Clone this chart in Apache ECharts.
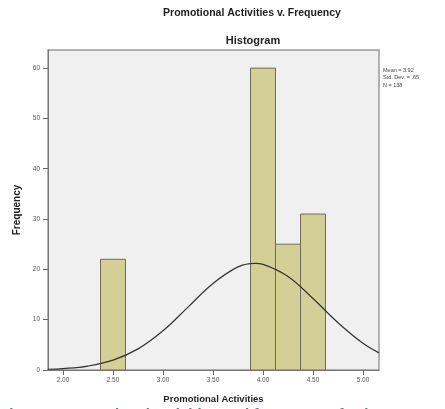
<!DOCTYPE html>
<html>
<head>
<meta charset="utf-8">
<script src="https://cdn.jsdelivr.net/npm/echarts@6/dist/echarts.min.js"></script>
<style>
  html, body { margin: 0; padding: 0; background: #ffffff; }
  #chart { width: 445px; height: 409px; }
</style>
</head>
<body>
<div id="chart"></div>
<script>
// Histogram bins: lower edge, upper edge, count
const binStart = [2.375, 3.875, 4.125, 4.375];
const binEnd   = [2.625, 4.125, 4.375, 4.625];
const binCount = [22, 60, 25, 31];

// Fitted normal curve, sampled along the x axis
const curveX = [1.85, 2.0, 2.25, 2.5, 2.75, 3.0, 3.25, 3.5, 3.75, 3.92, 4.0, 4.25, 4.5, 4.75, 5.0, 5.16];
const curveY = [0.15, 0.27, 0.78, 1.95, 4.2, 7.8, 12.5, 17.2, 20.5, 21.2, 21.0, 18.6, 14.2, 9.4, 5.3, 3.4];

// Axis ticks
const xTicks = [2.0, 2.5, 3.0, 3.5, 4.0, 4.5, 5.0];
const yTicks = [0, 10, 20, 30, 40, 50, 60];

// Summary statistics shown beside the plot
const statLines = ['Mean = 3.92', 'Std. Dev. = .65', 'N = 138'];

const FONT = '"Liberation Sans", Arial, sans-serif';

const histData = binStart.map((s, i) => [s, binEnd[i], binCount[i]]);
const curveData = curveX.map((x, i) => [x, curveY[i]]);

const chart = echarts.init(document.getElementById('chart'), null, { renderer: 'canvas' });

chart.setOption({
  animation: false,
  backgroundColor: '#ffffff',
  title: [
    {
      text: 'Promotional Activities v. Frequency',
      left: 252, top: 8, padding: 0, textAlign: 'center',
      textStyle: { fontFamily: FONT, fontSize: 10.5, fontWeight: 'bold', color: '#222' }
    },
    {
      text: 'Histogram',
      left: 253, top: 35, padding: 0, textAlign: 'center',
      textStyle: { fontFamily: FONT, fontSize: 11, fontWeight: 'bold', color: '#222' }
    }
  ],
  grid: {
    left: 48, right: 66, top: 50, bottom: 37,
    show: true,
    backgroundColor: '#f0f0f0',
    borderColor: '#9a9a9a',
    borderWidth: 1.5
  },
  xAxis: {
    type: 'value',
    min: 1.85, max: 5.16,
    name: 'Promotional Activities',
    nameLocation: 'middle',
    nameGap: 24,
    nameTextStyle: { fontFamily: FONT, fontSize: 9.5, fontWeight: 'bold', color: '#222' },
    axisLine: { show: true, onZero: false, lineStyle: { color: '#777', width: 1 } },
    axisTick: { show: true, customValues: xTicks, length: 5, lineStyle: { color: '#666' } },
    axisLabel: {
      customValues: xTicks, margin: 7,
      fontFamily: FONT, fontSize: 6.5, color: '#555',
      formatter: v => v.toFixed(2)
    },
    splitLine: { show: false }
  },
  yAxis: {
    type: 'value',
    min: 0, max: 63.6,
    name: 'Frequency',
    nameLocation: 'middle',
    nameGap: 24,
    nameTextStyle: { fontFamily: FONT, fontSize: 10, fontWeight: 'bold', color: '#222' },
    axisLine: { show: true, lineStyle: { color: '#777', width: 1 } },
    axisTick: { show: true, customValues: yTicks, length: 5, lineStyle: { color: '#666' } },
    axisLabel: {
      customValues: yTicks, margin: 8,
      fontFamily: FONT, fontSize: 6.5, color: '#555'
    },
    splitLine: { show: false }
  },
  series: [
    {
      type: 'custom',
      data: histData,
      clip: true,
      renderItem: (params, api) => {
        const p0 = api.coord([api.value(0), 0]);
        const p1 = api.coord([api.value(1), api.value(2)]);
        return {
          type: 'rect',
          shape: { x: p0[0], y: p1[1], width: p1[0] - p0[0], height: p0[1] - p1[1] },
          style: { fill: '#d4cf97', stroke: '#6f6c55', lineWidth: 1 }
        };
      },
      encode: { x: [0, 1], y: 2 },
      z: 2
    },
    {
      type: 'line',
      data: curveData,
      smooth: 0.4,
      showSymbol: false,
      clip: true,
      lineStyle: { color: '#333', width: 1.2 },
      z: 3
    }
  ],
  graphic: [
    {
      type: 'group',
      left: 383, top: 67,
      children: statLines.map((t, i) => ({
        type: 'text',
        x: 0, y: i * 7.5,
        style: { text: t, font: '5.5px ' + FONT, fill: '#444' }
      }))
    },
    {
      type: 'text',
      left: 0, top: 407,
      style: {
        text: 'Figure 3 Promotional activities and frequency of sales',
        font: 'bold 15px ' + FONT,
        fill: '#5a78ad'
      }
    }
  ]
});
</script>
</body>
</html>
